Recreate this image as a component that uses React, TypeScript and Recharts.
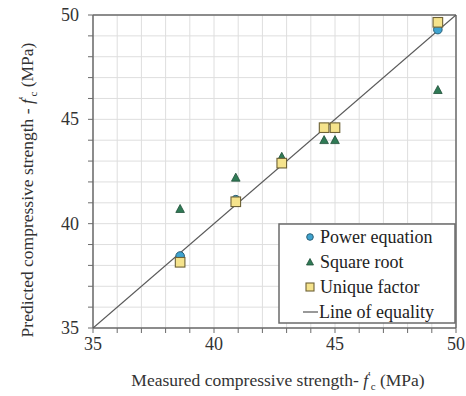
import React from "react";
import {
  ScatterChart,
  Scatter,
  XAxis,
  YAxis,
  CartesianGrid,
  ReferenceLine,
  Label,
} from "recharts";

const measured = [38.6, 40.9, 42.8, 44.55, 45.0, 49.25];
const powerEquation = [38.45, 41.15, 42.9, 44.6, 44.6, 49.3];
const squareRoot = [40.7, 42.2, 43.2, 44.0, 44.0, 46.4];
const uniqueFactor = [38.15, 41.05, 42.9, 44.6, 44.6, 49.65];
const equalityLine = [35, 50];
const axisTicks = [35, 36, 37, 38, 39, 40, 41, 42, 43, 44, 45, 46, 47, 48, 49, 50];
const labeledTicks = [35, 40, 45, 50];

const powerData = measured.map((x, i) => ({ x, y: powerEquation[i] }));
const sqrtData = measured.map((x, i) => ({ x, y: squareRoot[i] }));
const uniqueData = measured.map((x, i) => ({ x, y: uniqueFactor[i] }));
const lineData = equalityLine.map((v) => ({ x: v, y: v }));

const FONT = "'Liberation Serif', 'Times New Roman', serif";
const TEXT = "#333";
const FRAME = "#6b6b6b";

const CircleShape = (p: any) => (
  <circle cx={p.cx} cy={p.cy} r={4.3} fill="#3fa3cf" stroke="#2b5f76" strokeWidth={1} />
);
const TriangleShape = (p: any) => (
  <polygon
    points={`${p.cx},${p.cy - 4.6} ${p.cx - 4.3},${p.cy + 3.4} ${p.cx + 4.3},${p.cy + 3.4}`}
    fill="#2f7a55"
    stroke="#1f4f38"
    strokeWidth={0.8}
  />
);
const SquareShape = (p: any) => (
  <rect x={p.cx - 4.8} y={p.cy - 4.8} width={9.6} height={9.6} fill="#f5e38c" stroke="#6e6236" strokeWidth={1.1} />
);
const NoShape = () => null;

const XTick = (p: any) => {
  const v = p.payload?.value;
  if (!labeledTicks.includes(v)) return null;
  return (
    <text x={p.x} y={p.y + 15} textAnchor="middle" fontFamily={FONT} fontSize={18} fill={TEXT}>
      {String(v)}
    </text>
  );
};

const YTick = (p: any) => {
  const v = p.payload?.value;
  if (!labeledTicks.includes(v)) return null;
  return (
    <text x={p.x - 7} y={p.y + 6} textAnchor="end" fontFamily={FONT} fontSize={18} fill={TEXT}>
      {String(v)}
    </text>
  );
};

const FcText = () => (
  <>
    <tspan fontStyle="italic">f</tspan>
    <tspan dy={-6} fontSize={12}>′</tspan>
    <tspan dy={10} fontSize={11}>c</tspan>
    <tspan dy={-4}> (MPa)</tspan>
  </>
);

const XTitle = () => (
  <text x={278} y={386} textAnchor="middle" fontFamily={FONT} fontSize={17.5} fill={TEXT}>
    Measured compressive strength- <FcText />
  </text>
);

const YTitle = () => (
  <text
    x={0}
    y={0}
    transform="translate(33, 190) rotate(-90)"
    textAnchor="middle"
    fontFamily={FONT}
    fontSize={17.5}
    fill={TEXT}
  >
    Predicted compressive strength - <FcText />
  </text>
);

const legendItems = [
  { name: "Power equation", kind: "circle" },
  { name: "Square root", kind: "triangle" },
  { name: "Unique factor", kind: "square" },
  { name: "Line of equality", kind: "line" },
];

const LegendBox = () => (
  <svg
    width={178}
    height={101}
    style={{ position: "absolute", left: 278, top: 223 }}
  >
    <rect x={1} y={1} width={176} height={99} fill="#fff" stroke={FRAME} strokeWidth={1.5} />
    {legendItems.map((it, i) => {
      const cy = 14 + i * 25;
      return (
        <g key={it.name}>
          {it.kind === "circle" && <circle cx={32} cy={cy} r={3.3} fill="#3fa3cf" stroke="#2b5f76" strokeWidth={1} />}
          {it.kind === "triangle" && (
            <polygon
              points={`32,${cy - 3.5} 28.5,${cy + 3} 35.5,${cy + 3}`}
              fill="#2f7a55"
              stroke="#1f4f38"
              strokeWidth={0.8}
            />
          )}
          {it.kind === "square" && (
            <rect x={28} y={cy - 4} width={8} height={8} fill="#f5e38c" stroke="#6e6236" strokeWidth={1.1} />
          )}
          {it.kind === "line" && <line x1={25} x2={40} y1={cy} y2={cy} stroke="#555" strokeWidth={1.2} />}
          <text x={it.kind === "line" ? 41 : 42} y={cy + 6} fontFamily={FONT} fontSize={18} fill="#222">
            {it.name}
          </text>
        </g>
      );
    })}
  </svg>
);

export default function App() {
  return (
    <div style={{ position: "absolute", left: 0, top: 0, width: 466, height: 396, background: "#fff" }}>
      <ScatterChart width={466} height={396} margin={{ top: 15, right: 10, bottom: 0, left: 0 }}>
        <CartesianGrid stroke="#dedede" strokeWidth={1} />
        <XAxis
          type="number"
          dataKey="x"
          domain={[35, 50]}
          ticks={axisTicks}
          interval={0}
          height={68}
          tickSize={5}
          axisLine={{ stroke: FRAME, strokeWidth: 1.5 }}
          tickLine={{ stroke: FRAME }}
          tick={<XTick />}
          allowDataOverflow
        >
          <Label content={<XTitle />} />
        </XAxis>
        <YAxis
          type="number"
          dataKey="y"
          domain={[35, 50]}
          ticks={axisTicks}
          interval={0}
          width={93}
          tickSize={5}
          axisLine={{ stroke: FRAME, strokeWidth: 1.5 }}
          tickLine={{ stroke: FRAME }}
          tick={<YTick />}
          allowDataOverflow
        >
          <Label content={<YTitle />} />
        </YAxis>
        <ReferenceLine y={50} stroke={FRAME} strokeWidth={1.5} />
        <ReferenceLine x={50} stroke={FRAME} strokeWidth={1.5} />
        <Scatter
          name="Line of equality"
          data={lineData}
          line={{ stroke: "#5a5a5a", strokeWidth: 1.3 }}
          shape={NoShape}
          isAnimationActive={false}
          legendType="none"
        />
        <Scatter name="Power equation" data={powerData} shape={CircleShape} isAnimationActive={false} />
        <Scatter name="Square root" data={sqrtData} shape={TriangleShape} isAnimationActive={false} />
        <Scatter name="Unique factor" data={uniqueData} shape={SquareShape} isAnimationActive={false} />
      </ScatterChart>
      <LegendBox />
    </div>
  );
}
